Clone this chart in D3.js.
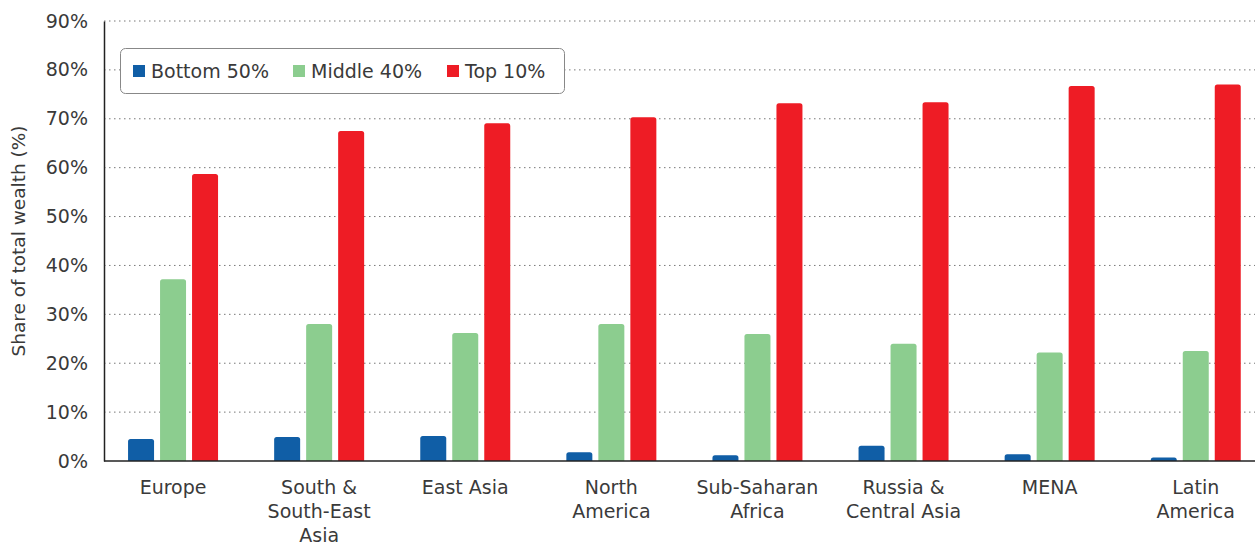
<!DOCTYPE html>
<html>
<head>
<meta charset="utf-8">
<script src="https://cdn.jsdelivr.net/npm/d3@7"></script>
<style>
  body { margin: 0; background: #fff; }
  svg text { font-family: "DejaVu Sans", "Noto Sans", sans-serif; fill: #3a3a3a; }
</style>
</head>
<body>
<svg id="chart" width="1255" height="545"></svg>
<script>
var regions = [["Europe"], ["South &", "South-East", "Asia"], ["East Asia"], ["North", "America"],
               ["Sub-Saharan", "Africa"], ["Russia &", "Central Asia"], ["MENA"], ["Latin", "America"]];
var seriesNames = ["Bottom 50%", "Middle 40%", "Top 10%"];
var bottom50 = [4.5, 4.9, 5.1, 1.8, 1.2, 3.1, 1.4, 0.7];
var middle40 = [37.2, 28.0, 26.2, 28.0, 26.0, 24.0, 22.2, 22.5];
var top10 = [58.7, 67.5, 69.1, 70.3, 73.2, 73.4, 76.7, 77.0];
var yTicks = [0, 10, 20, 30, 40, 50, 60, 70, 80, 90];
var colors = ["#105ea6", "#8ccd8f", "#ee1c25"];

var svg = d3.select("svg#chart"),
    margin = {top: 21, left: 104, bottom: 84},
    height = +svg.attr("height") - margin.top - margin.bottom;

var keys = regions.map(function(d, i) { return i; });
var x = d3.scaleBand().domain(keys).range([100, 100 + 8 * 146.1]);
var xs = d3.scaleBand().domain([0, 1, 2]).range([-45, 45]).paddingInner(0.1875).paddingOuter(0);
var y = d3.scaleLinear().domain([0, 90]).range([margin.top + height, margin.top]);

// gridlines
svg.append("g").selectAll("line")
  .data(yTicks.slice(1))
  .enter().append("line")
    .attr("x1", margin.left).attr("x2", 1255)
    .attr("y1", function(d) { return y(d); }).attr("y2", function(d) { return y(d); })
    .attr("stroke", "#777").attr("stroke-width", 1).attr("stroke-dasharray", "1.5,3.5");

// y axis
var yAxis = svg.append("g")
    .attr("transform", "translate(" + margin.left + ",0)")
    .call(d3.axisLeft(y).tickValues(yTicks).tickSize(0).tickPadding(16).tickFormat(function(d) { return d + "%"; }));
yAxis.select(".domain").attr("stroke", "#222").attr("stroke-width", 1.5);
yAxis.selectAll("text").style("font-size", "19px").attr("fill", "#3a3a3a").style("font-family", "DejaVu Sans");

svg.append("text")
    .attr("transform", "translate(25," + y(45) + ") rotate(-90)")
    .attr("text-anchor", "middle")
    .style("font-size", "18.5px")
    .text("Share of total wealth (%)");

// bars
var series = [bottom50, middle40, top10];
function barPath(x0, w, yTop, yBot) {
  var r = Math.min(2.5, (yBot - yTop));
  return "M" + x0 + "," + yBot + "V" + (yTop + r) + "Q" + x0 + "," + yTop + " " + (x0 + r) + "," + yTop +
         "H" + (x0 + w - r) + "Q" + (x0 + w) + "," + yTop + " " + (x0 + w) + "," + (yTop + r) + "V" + yBot + "Z";
}
series.forEach(function(vals, s) {
  svg.append("g").attr("fill", colors[s])
    .selectAll("path")
    .data(vals)
    .enter().append("path")
      .attr("d", function(d, i) {
        var cx = x(i) + x.bandwidth() / 2;
        return barPath(cx + xs(s), xs.bandwidth(), y(d), y(0));
      });
});

// x baseline
svg.append("line")
    .attr("x1", margin.left).attr("x2", 1255)
    .attr("y1", y(0)).attr("y2", y(0))
    .attr("stroke", "#222").attr("stroke-width", 1.5);

// category labels
var lab = svg.append("g").selectAll("text")
  .data(regions)
  .enter().append("text")
    .attr("text-anchor", "middle")
    .attr("x", function(d, i) { return x(i) + x.bandwidth() / 2; })
    .attr("y", 494)
    .style("font-size", "19px");
lab.selectAll("tspan")
  .data(function(d) { return d; })
  .enter().append("tspan")
    .attr("x", function() { return d3.select(this.parentNode).attr("x"); })
    .attr("dy", function(d, i) { return i === 0 ? 0 : 24; })
    .text(function(d) { return d; });

// legend
var legend = svg.append("g");
legend.append("rect")
    .attr("x", 120.5).attr("y", 48.5).attr("width", 444).attr("height", 45)
    .attr("rx", 5).attr("fill", "#fff").attr("stroke", "#888").attr("stroke-width", 1);
var legX = [133, 293, 447];
seriesNames.forEach(function(n, i) {
  legend.append("rect").attr("x", legX[i]).attr("y", 65).attr("width", 12).attr("height", 12).attr("fill", colors[i]);
  legend.append("text").attr("x", legX[i] + 18).attr("y", 78).style("font-size", "19px").text(n);
});
</script>
</body>
</html>
